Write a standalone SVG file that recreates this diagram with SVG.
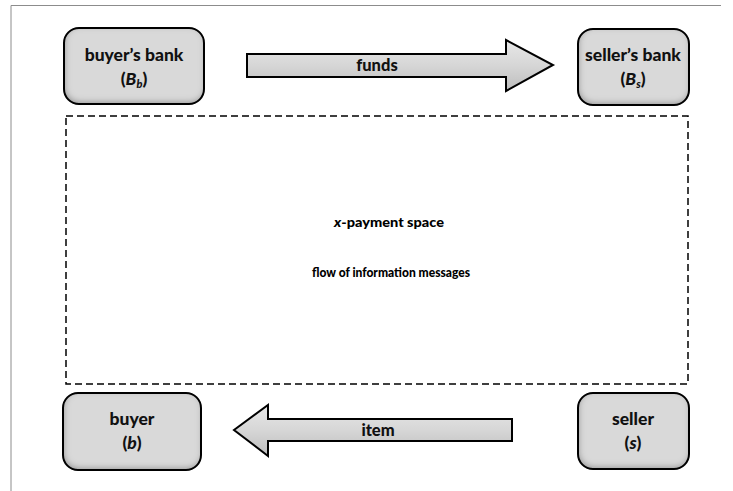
<svg xmlns="http://www.w3.org/2000/svg" width="733" height="491" viewBox="0 0 733 491">
  <style>
    .frame { fill: none; stroke: #8c8c8c; stroke-width: 1; }
    .box-fill { fill: #d9d9d9; filter: url(#innerShade); }
    .box-edge { fill: none; stroke: #000; stroke-width: 2; }
    .label { font-family: Lato, "Liberation Sans", sans-serif; font-weight: 900; font-size: 17.5px; fill: #111; text-anchor: middle; }
    .arrow { fill: url(#arrowGrad); stroke: #000; stroke-width: 2; stroke-linejoin: miter; }
    .arrow-label { font-family: Lato, "Liberation Sans", sans-serif; font-weight: 900; font-size: 16.5px; fill: #111; text-anchor: middle; }
    .space { fill: none; stroke: #000; stroke-width: 1.5; stroke-dasharray: 7 4; }
    .space-label { font-family: Lato, "Liberation Sans", sans-serif; font-weight: 900; font-size: 13.5px; fill: #000; text-anchor: middle; }
  </style>
  <defs>
    <!-- soft darkening along the inside of each rounded box -->
    <filter id="innerShade" x="-10%" y="-10%" width="120%" height="120%">
      <feFlood flood-color="#000" flood-opacity="0.6" result="ink"/>
      <feComposite in="ink" in2="SourceAlpha" operator="out" result="outside"/>
      <feGaussianBlur in="outside" stdDeviation="3" result="blurred"/>
      <feOffset in="blurred" dx="1" dy="-2" result="shifted"/>
      <feComposite in="shifted" in2="SourceAlpha" operator="in" result="shade"/>
      <feMerge>
        <feMergeNode in="SourceGraphic"/>
        <feMergeNode in="shade"/>
      </feMerge>
    </filter>
    <linearGradient id="arrowGrad" x1="0" y1="0" x2="0" y2="1">
      <stop offset="0" stop-color="#e8e8e8"/>
      <stop offset="0.5" stop-color="#d6d6d6"/>
      <stop offset="1" stop-color="#bdbdbd"/>
    </linearGradient>
  </defs>

  <!-- page frame (top and left rules) -->
  <path class="frame" d="M11 491 V5.5 H721"/>

  <!-- dashed payment space -->
  <g id="payment-space">
    <rect class="space" x="66" y="116" width="622" height="268"/>
    <text class="space-label" x="389" y="227" textLength="110" lengthAdjust="spacingAndGlyphs"><tspan font-style="italic">x</tspan>-payment space</text>
    <text class="space-label" x="391" y="277" font-size="13" textLength="158" lengthAdjust="spacingAndGlyphs">flow of information messages</text>
  </g>

  <g id="buyers-bank">
    <rect class="box-fill" x="64" y="28" width="140" height="76" rx="15"/>
    <rect class="box-edge" x="64" y="28" width="140" height="76" rx="15"/>
    <text class="label" x="134" y="61">buyer’s bank</text>
    <text class="label" x="134" y="85">(<tspan font-style="italic">B</tspan><tspan font-style="italic" font-size="11" dy="3">b</tspan><tspan dy="-3">)</tspan></text>
  </g>

  <g id="sellers-bank">
    <rect class="box-fill" x="578" y="29" width="111" height="76" rx="15"/>
    <rect class="box-edge" x="578" y="29" width="111" height="76" rx="15"/>
    <text class="label" x="633" y="61">seller’s bank</text>
    <text class="label" x="633" y="85">(<tspan font-style="italic">B</tspan><tspan font-style="italic" font-size="11" dy="3">s</tspan><tspan dy="-3">)</tspan></text>
  </g>

  <g id="buyer">
    <rect class="box-fill" x="63" y="393" width="138" height="77" rx="15"/>
    <rect class="box-edge" x="63" y="393" width="138" height="77" rx="15"/>
    <text class="label" x="132" y="425">buyer</text>
    <text class="label" x="132" y="449">(<tspan font-style="italic">b</tspan>)</text>
  </g>

  <g id="seller">
    <rect class="box-fill" x="578" y="393" width="111" height="76" rx="15"/>
    <rect class="box-edge" x="578" y="393" width="111" height="76" rx="15"/>
    <text class="label" x="633" y="425">seller</text>
    <text class="label" x="633" y="449">(<tspan font-style="italic">s</tspan>)</text>
  </g>

  <g id="connectors">
    <g id="funds">
      <polygon class="arrow" points="247,54 506,54 506,40 553,65 506,91 506,77 247,77"/>
      <text class="arrow-label" x="377" y="71">funds</text>
    </g>
    <g id="item">
      <polygon class="arrow" points="512,419 268,419 268,405 234,430 268,456 268,441 512,441"/>
      <text class="arrow-label" x="378" y="436">item</text>
    </g>
  </g>
</svg>
